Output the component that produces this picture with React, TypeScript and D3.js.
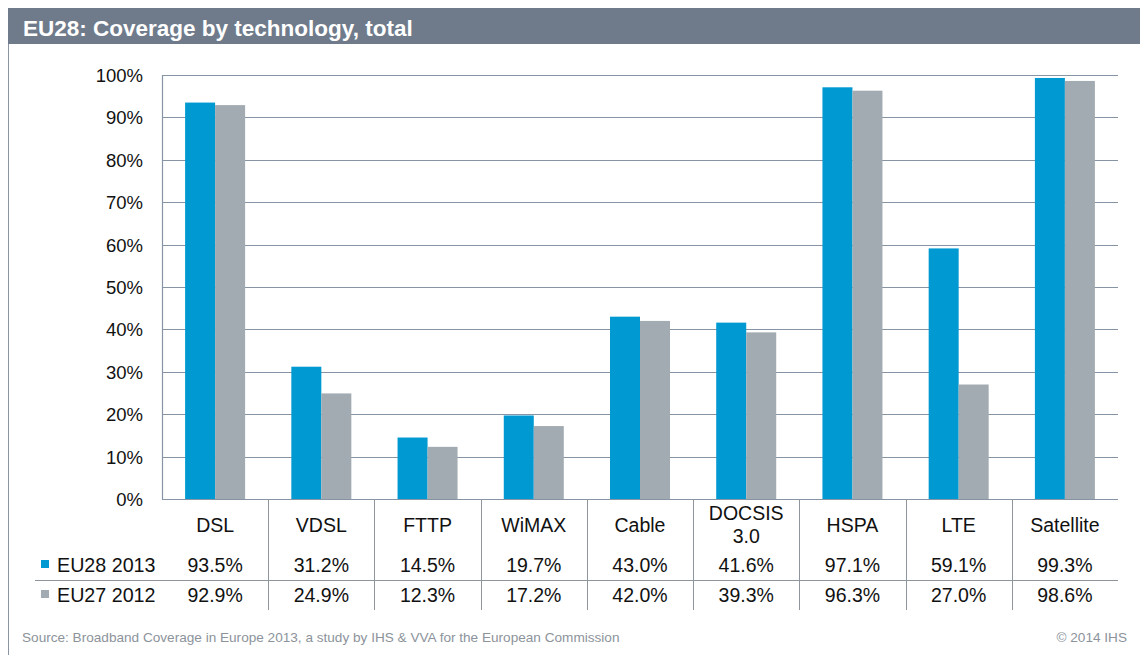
import * as d3 from 'd3';

const categories = ['DSL', 'VDSL', 'FTTP', 'WiMAX', 'Cable', 'DOCSIS\n3.0', 'HSPA', 'LTE', 'Satellite'];
const eu28_2013 = [93.5, 31.2, 14.5, 19.7, 43.0, 41.6, 97.1, 59.1, 99.3];
const eu27_2012 = [92.9, 24.9, 12.3, 17.2, 42.0, 39.3, 96.3, 27.0, 98.6];
const seriesNames = ['EU28 2013', 'EU27 2012'];
const yTicks = [0, 10, 20, 30, 40, 50, 60, 70, 80, 90, 100];

const W = 1140;
const H = 655;
const left = 162;
const right = 1118;
const top = 75;
const bottom = 499;
const colors = ['#0099d1', '#a2abb1'];
const font = '"Liberation Sans", Arial, sans-serif';

const App = () => {
  const x = d3.scaleBand().domain(categories).range([left, right]);
  const inner = d3.scaleBand().domain(seriesNames).range([0, 60]);
  const y = d3.scaleLinear().domain([0, 100]).range([bottom, top]);
  const series = [eu28_2013, eu27_2012];
  const rowY = [572, 602];

  return (
    <div style={{ position: 'absolute', left: 0, top: 0 }}>
      <svg width={W} height={H} style={{ display: 'block', fontFamily: font }}>
        <rect x={0} y={0} width={W} height={H} fill="#fff" />
        {/* title bar */}
        <rect x={8} y={8} width={W - 8} height={36} fill="#6f7b8b" />
        <text x={23} y={36} fill="#fff" fontSize={22.5} fontWeight="bold">
          EU28: Coverage by technology, total
        </text>
        <line x1={8.5} x2={8.5} y1={44} y2={H} stroke="#8a94a2" strokeWidth={1} />

        {/* grid */}
        {yTicks.map(t => (
          <g key={t}>
            <line x1={left} x2={right} y1={Math.round(y(t)) + 0.5} y2={Math.round(y(t)) + 0.5}
              stroke="#8794a4" strokeWidth={1.2} />
            <text x={143} y={y(t) + 7} textAnchor="end" fontSize={18.5} fill="#111">{t}%</text>
          </g>
        ))}
        <line x1={left + 0.5} x2={left + 0.5} y1={top} y2={bottom} stroke="#8794a4" strokeWidth={1.2} />

        {/* bars */}
        {series.map((vals, si) => (
          <g key={si} fill={colors[si]}>
            {vals.map((v, i) => {
              const bx = x(categories[i])! + x.bandwidth() / 2 - 30 + inner(seriesNames[si])!;
              return <rect key={i} x={bx} y={y(v)} width={inner.bandwidth()} height={bottom - y(v)} />;
            })}
          </g>
        ))}

        {/* table lines */}
        {categories.slice(1).map(c => (
          <line key={c} x1={Math.round(x(c)!) + 0.5} x2={Math.round(x(c)!) + 0.5} y1={bottom} y2={610}
            stroke="#8f959c" strokeWidth={1} />
        ))}
        <line x1={35} x2={right} y1={580.5} y2={580.5} stroke="#8f959c" strokeWidth={1} />

        {/* category labels */}
        {categories.map(c => {
          const lines = c.split('\n');
          const cx = x(c)! + x.bandwidth() / 2;
          return (
            <text key={c} x={cx} textAnchor="middle" fontSize={19.5} fill="#111">
              {lines.length === 1
                ? <tspan x={cx} y={532}>{c}</tspan>
                : lines.map((l, k) => <tspan key={k} x={cx} y={520 + k * 23}>{l}</tspan>)}
            </text>
          );
        })}

        {/* legend rows */}
        {seriesNames.map((n, si) => (
          <g key={n}>
            <rect x={41} y={rowY[si] - 12} width={8} height={8} fill={colors[si]} />
            <text x={57} y={rowY[si]} fontSize={19.7} fill="#111">{n}</text>
            {series[si].map((v, i) => (
              <text key={i} x={x(categories[i])! + x.bandwidth() / 2} y={rowY[si]} textAnchor="middle"
                fontSize={19.5} fill="#111">{v.toFixed(1)}%</text>
            ))}
          </g>
        ))}

        {/* footer */}
        <text x={22} y={642} fontSize={13.6} fill="#8c939b">
          Source: Broadband Coverage in Europe 2013, a study by IHS &amp; VVA for the European Commission
        </text>
        <text x={1127} y={642} fontSize={13.6} fill="#8c939b" textAnchor="end">© 2014 IHS</text>
      </svg>
    </div>
  );
};

export default App;
